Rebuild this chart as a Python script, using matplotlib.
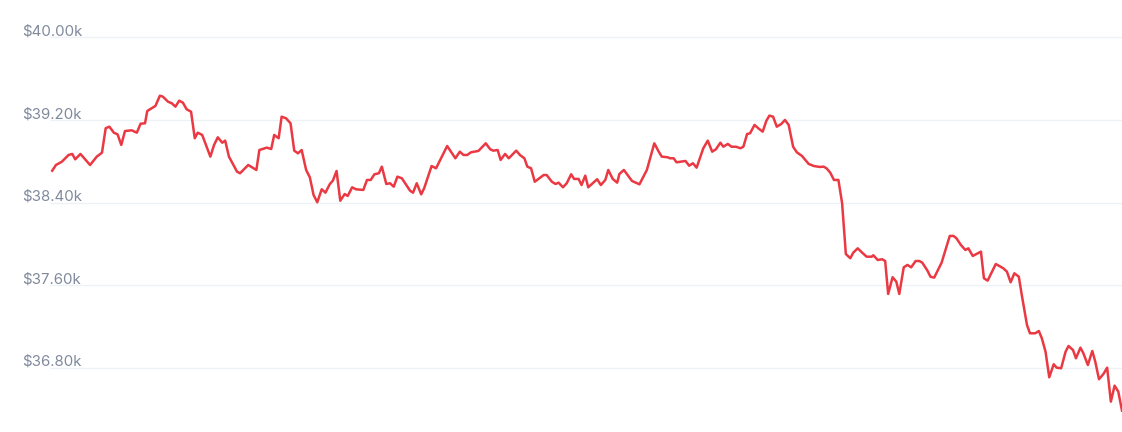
import matplotlib
matplotlib.use("Agg")
import matplotlib.pyplot as plt
import matplotlib.transforms as mtransforms

# ---------------------------------------------
# Data: minutes since start, price in $k
# ---------------------------------------------
minutes = [
    0, 5, 13, 22, 27, 31, 38, 51, 60, 67, 72, 77, 83, 88, 93, 98, 107, 114, 119, 125,
    128, 139, 145, 149, 156, 161, 166, 171, 176, 181, 187, 192, 196, 202, 213, 218, 223, 229, 233, 238,
    249, 253, 264, 275, 279, 289, 295, 299, 305, 309, 315, 321, 326, 331, 336, 342, 347, 352, 357, 363,
    368, 374, 378, 383, 388, 394, 398, 404, 409, 419, 424, 429, 434, 440, 444, 450, 455, 460, 465, 471,
    482, 486, 491, 497, 501, 511, 517, 532, 543, 549, 554, 559, 564, 574, 584, 590, 594, 600, 604, 610,
    615, 625, 630, 636, 640, 645, 650, 656, 662, 666, 673, 678, 682, 688, 693, 699, 703, 709, 713, 718,
    722, 734, 739, 745, 749, 755, 761, 764, 770, 781, 791, 801, 811, 817, 821, 829, 832, 837, 841, 853,
    858, 863, 868, 877, 883, 889, 894, 900, 904, 910, 915, 921, 927, 931, 936, 940, 946, 951, 957, 962,
    966, 971, 976, 982, 987, 992, 998, 1003, 1010, 1019, 1026, 1034, 1039, 1043, 1048, 1053, 1059, 1064, 1069, 1075,
    1079, 1085, 1091, 1097, 1104, 1106, 1112, 1118, 1122, 1126, 1132, 1137, 1141, 1147, 1152, 1157, 1163, 1168, 1172, 1179,
    1183, 1188, 1198, 1209, 1214, 1218, 1224, 1230, 1234, 1240, 1251, 1255, 1260, 1271, 1281, 1286, 1291, 1296, 1302, 1306,
    1313, 1317, 1324, 1329, 1333, 1338, 1343, 1349, 1353, 1359, 1365, 1369, 1375, 1379, 1385, 1389, 1395, 1401, 1405, 1410,
    1416, 1421, 1426, 1431, 1436, 1441,
]

price_k = [
    38.710, 38.765, 38.797, 38.862, 38.872, 38.820, 38.872, 38.765, 38.846, 38.884,
    39.121, 39.136, 39.078, 39.062, 38.959, 39.094, 39.101, 39.078, 39.165, 39.169,
    39.288, 39.337, 39.436, 39.427, 39.378, 39.363, 39.330, 39.388, 39.369, 39.305,
    39.281, 39.024, 39.078, 39.056, 38.846, 38.959, 39.033, 38.981, 39.001, 38.846,
    38.700, 38.685, 38.765, 38.717, 38.910, 38.933, 38.920, 39.056, 39.024, 39.233,
    39.217, 39.169, 38.904, 38.878, 38.910, 38.717, 38.646, 38.475, 38.404, 38.530,
    38.497, 38.581, 38.613, 38.707, 38.419, 38.484, 38.465, 38.549, 38.530, 38.523,
    38.620, 38.620, 38.675, 38.685, 38.749, 38.581, 38.588, 38.555, 38.652, 38.636,
    38.516, 38.497, 38.588, 38.481, 38.540, 38.755, 38.733, 38.949, 38.830, 38.894,
    38.862, 38.862, 38.888, 38.901, 38.975, 38.917, 38.904, 38.910, 38.814, 38.872,
    38.830, 38.904, 38.862, 38.830, 38.749, 38.733, 38.603, 38.636, 38.668, 38.668,
    38.603, 38.581, 38.594, 38.549, 38.588, 38.675, 38.630, 38.630, 38.571, 38.662,
    38.549, 38.627, 38.571, 38.620, 38.717, 38.630, 38.594, 38.678, 38.717, 38.610,
    38.578, 38.717, 38.975, 38.894, 38.846, 38.840, 38.830, 38.830, 38.791, 38.804,
    38.758, 38.782, 38.739, 38.927, 39.001, 38.894, 38.917, 38.981, 38.942, 38.969,
    38.942, 38.942, 38.927, 38.942, 39.065, 39.072, 39.153, 39.121, 39.088, 39.194,
    39.243, 39.233, 39.136, 39.162, 39.201, 39.153, 38.942, 38.888, 38.852, 38.775,
    38.755, 38.746, 38.749, 38.733, 38.691, 38.620, 38.620, 38.394, 37.903, 37.862,
    37.916, 37.958, 37.916, 37.877, 37.877, 37.891, 37.845, 37.852, 37.835, 37.516,
    37.678, 37.635, 37.516, 37.774, 37.797, 37.774, 37.835, 37.835, 37.819, 37.741,
    37.683, 37.674, 37.819, 38.078, 38.078, 38.055, 37.990, 37.942, 37.958, 37.884,
    37.926, 37.668, 37.645, 37.806, 37.765, 37.732, 37.629, 37.716, 37.683, 37.506,
    37.216, 37.135, 37.135, 37.157, 37.087, 36.957, 36.709, 36.835, 36.802, 36.796,
    36.957, 37.012, 36.973, 36.893, 36.996, 36.941, 36.828, 36.964, 36.860, 36.690,
    36.741, 36.802, 36.473, 36.628, 36.570, 36.386,
]

tick_values = [36.8, 37.6, 38.4, 39.2, 40.0]
tick_labels = ["$36.80k", "$37.60k", "$38.40k", "$39.20k", "$40.00k"]

LINE_COLOR = "#ea3943"
GRID_COLOR = "#eff2f5"
LABEL_COLOR = "#808a9d"

# ---------------------------------------------
# Plot
# ---------------------------------------------
plt.rcParams["font.family"] = ["Inter", "DejaVu Sans"]

fig = plt.figure(figsize=(11.22, 4.32), dpi=100)
ax = fig.add_axes([50 / 1122, 0, 1072 / 1122, 1])

ax.plot(minutes, price_k, color=LINE_COLOR, linewidth=1.8,
        solid_joinstyle="round", zorder=3)

ax.set_xlim(-3, 1441)
ax.set_ylim(36.179, 40.363)

ax.set_yticks(tick_values)
ax.grid(axis="y", color=GRID_COLOR, linewidth=1.0)
ax.tick_params(left=False, bottom=False, labelleft=False, labelbottom=False)
for side in ["top", "right", "bottom", "left"]:
    ax.spines[side].set_visible(False)

# tick labels sit just above their grid lines, at the left edge
offset = mtransforms.ScaledTranslation(0, 2 / 100, fig.dpi_scale_trans)
trans = ax.get_yaxis_transform() + offset
for val, lab in zip(tick_values, tick_labels):
    ax.text(-28 / 1072, val, lab, transform=trans, ha="left", va="baseline",
            fontsize=10.8, color=LABEL_COLOR, clip_on=False)

fig.savefig("out.png", dpi=100, facecolor="white")
plt.close(fig)
